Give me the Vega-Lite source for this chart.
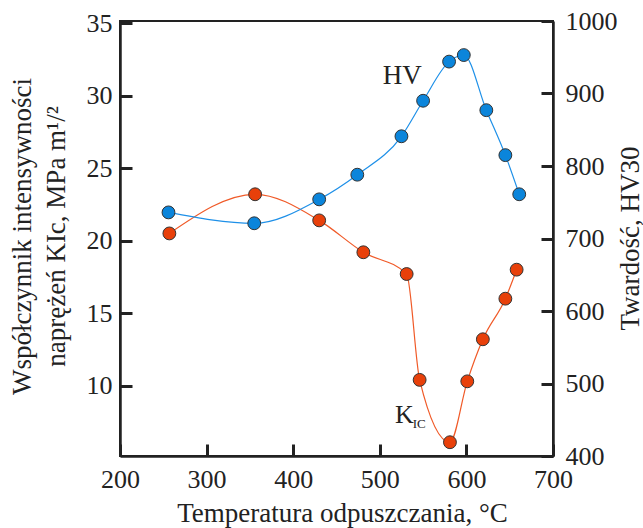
{
  "$schema": "https://vega.github.io/schema/vega-lite/v6.json",
  "width": 433,
  "height": 435,
  "autosize": "none",
  "padding": {"left": 120, "top": 21, "right": 90, "bottom": 72},
  "background": "white",
  "config": {
    "view": {"stroke": "#222", "strokeWidth": 2},
    "axis": {
      "grid": false,
      "labelFlush": false,
      "domainColor": "#222",
      "domainWidth": 2.5,
      "tickColor": "#222",
      "tickWidth": 3,
      "tickSize": -12,
      "labelFont": "Liberation Serif",
      "labelFontSize": 26,
      "labelColor": "#222",
      "titleFont": "Liberation Serif",
      "titleFontSize": 27,
      "titleFontWeight": "normal",
      "titleColor": "#222"
    }
  },
  "datasets": {
    "kic": [
      {"T": 257, "v": 20.5},
      {"T": 356, "v": 23.2},
      {"T": 430, "v": 21.4},
      {"T": 481, "v": 19.2},
      {"T": 531, "v": 17.7},
      {"T": 546, "v": 10.4},
      {"T": 581, "v": 6.1},
      {"T": 601, "v": 10.3},
      {"T": 619, "v": 13.2},
      {"T": 645, "v": 16.0},
      {"T": 658, "v": 18.0}
    ],
    "hv": [
      {"T": 256, "v": 736},
      {"T": 355, "v": 721},
      {"T": 430, "v": 754},
      {"T": 474, "v": 788},
      {"T": 525, "v": 841},
      {"T": 550, "v": 890},
      {"T": 580, "v": 944},
      {"T": 597, "v": 953},
      {"T": 623, "v": 877},
      {"T": 645, "v": 815},
      {"T": 661, "v": 761}
    ],
    "klab": [
      {"T": 517.5, "v": 7.44, "label": "K", "kind": "main"},
      {"T": 538, "v": 7.1, "label": "IC", "kind": "sub"}
    ],
    "hvlab": [
      {"T": 526, "v": 924, "label": "HV"}
    ]
  },
  "encoding": {
    "x": {
      "field": "T",
      "type": "quantitative",
      "scale": {"domain": [200, 700], "nice": false, "zero": false},
      "axis": {
        "values": [200, 300, 400, 500, 600, 700],
        "labelFlush": false,
        "labelPadding": 22,
        "title": "Temperatura odpuszczania, °C",
        "titleX": 222,
        "titleY": 57,
        "titleBaseline": "middle"
      }
    }
  },
  "layer": [
    {
      "encoding": {
        "y": {
          "field": "v",
          "type": "quantitative",
          "scale": {"domain": [5.15, 35.15], "nice": false, "zero": false},
          "axis": {
            "orient": "left",
            "values": [10, 15, 20, 25, 30, 35],
            "labelPadding": 20,
            "title": ["Współczynnik intensywności", "naprężeń KIc, MPa m¹/²"],
            "titleX": -98,
            "titleY": 215,
            "titleAngle": 270,
            "titleBaseline": "middle",
            "titleLineHeight": 34
          }
        }
      },
      "layer": [
        {
          "data": {"name": "kic"},
          "mark": {"type": "line", "interpolate": "monotone", "color": "#F05A28", "strokeWidth": 1.2}
        },
        {
          "data": {"name": "kic"},
          "mark": {"type": "point", "filled": true, "shape": "circle", "size": 165, "color": "#E8400A", "stroke": "#333", "strokeWidth": 1, "opacity": 1}
        },
        {
          "data": {"name": "klab"},
          "transform": [{"filter": "datum.kind == 'main'"}],
          "mark": {"type": "text", "font": "Liberation Serif", "fontSize": 26, "align": "left", "baseline": "alphabetic", "color": "#222"},
          "encoding": {"text": {"field": "label"}}
        },
        {
          "data": {"name": "klab"},
          "transform": [{"filter": "datum.kind == 'sub'"}],
          "mark": {"type": "text", "font": "Liberation Serif", "fontSize": 13, "align": "left", "baseline": "alphabetic", "color": "#222"},
          "encoding": {"text": {"field": "label"}}
        }
      ]
    },
    {
      "encoding": {
        "y": {
          "field": "v",
          "type": "quantitative",
          "scale": {"domain": [400, 1000], "nice": false, "zero": false},
          "axis": {
            "orient": "right",
            "values": [400, 500, 600, 700, 800, 900, 1000],
            "format": "d",
            "labelPadding": 24,
            "title": "Twardość, HV30",
            "titleX": 77,
            "titleY": 217,
            "titleAngle": 270,
            "titleBaseline": "middle"
          }
        }
      },
      "layer": [
        {
          "data": {"name": "hv"},
          "mark": {"type": "line", "interpolate": "monotone", "color": "#1E90E8", "strokeWidth": 1.2}
        },
        {
          "data": {"name": "hv"},
          "mark": {"type": "point", "filled": true, "shape": "circle", "size": 165, "color": "#0B85DB", "stroke": "#333", "strokeWidth": 1, "opacity": 1}
        },
        {
          "data": {"name": "hvlab"},
          "mark": {"type": "text", "font": "Liberation Serif", "fontSize": 27, "align": "center", "baseline": "middle", "color": "#222"},
          "encoding": {"text": {"field": "label"}}
        }
      ]
    }
  ],
  "resolve": {"scale": {"y": "independent"}}
}
